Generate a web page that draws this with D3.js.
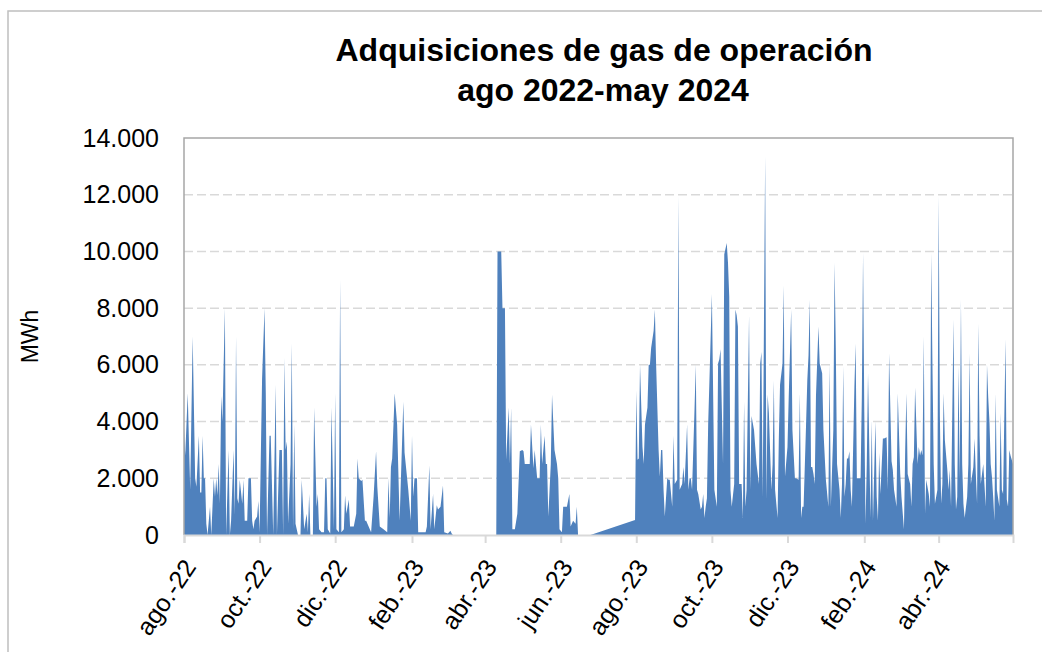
<!DOCTYPE html>
<html>
<head>
<meta charset="utf-8">
<script src="https://cdn.jsdelivr.net/npm/d3@7"></script>
<style>
  body { margin: 0; background: #fff; }
  svg text { font-family: "Liberation Sans", Arial, sans-serif; fill: #000; }
</style>
</head>
<body>
<svg id="chart" width="1042" height="652"></svg>
<script>
var titulo = ["Adquisiciones de gas de operación", "ago 2022-may 2024"];
var tituloEje = "MWh";
var inicio = new Date(2022, 7, 1);   // 1 ago 2022
var fin = new Date(2024, 4, 31);     // 31 may 2024

// meses marcados en el eje (cada dos meses)
var mesesEje = [
  new Date(2022, 7, 1), new Date(2022, 9, 1), new Date(2022, 11, 1),
  new Date(2023, 1, 1), new Date(2023, 3, 1), new Date(2023, 5, 1),
  new Date(2023, 7, 1), new Date(2023, 9, 1), new Date(2023, 11, 1),
  new Date(2024, 1, 1), new Date(2024, 3, 1)
];
var etiquetasX = ["ago.-22", "oct.-22", "dic.-22", "feb.-23", "abr.-23", "jun.-23",
  "ago.-23", "oct.-23", "dic.-23", "feb.-24", "abr.-24"];
var ticksY = [0, 2000, 4000, 6000, 8000, 10000, 12000, 14000];

// [dias desde 1 ago 2022, MWh]
var lecturas = [
  [0,3800],[1,2800],[3,5000],[5,1600],[7,7000],[9,2000],[10,1700],[12,3500],[13,1500],[14,1500],
  [15,3500],[16,2000],[17,2000],[18,400],[19,0],[20,500],[21,1000],[22,0],[24,2000],[25,1350],
  [26,2000],[27,1400],[28,2500],[29,1100],[30,4900],[31,4000],[33,8000],[34,0],[36,3000],[37,0],
  [38,500],[40,3000],[41,700],[42,7000],[43,1300],[44,1100],[45,1950],[47,1100],[48,1950],[49,500],
  [51,500],[52,2000],[54,2000],[55,500],[56,200],[57,500],[59,650],[60,1200],[61,100],[63,5500],
  [65,8000],[66,5000],[67,0],[69,3500],[70,3500],[72,0],[74,5300],[75,0],[77,3000],[79,3000],
  [80,0],[81,6250],[82,3000],[83,3300],[84,400],[86,2500],[87,6750],[88,200],[89,3900],[90,400],
  [92,0],[94,0],[95,1950],[97,200],[99,750],[100,100],[101,1450],[102,0],[104,0],[105,4500],
  [107,1000],[108,1450],[109,200],[111,100],[113,100],[114,2000],[115,2000],[116,200],[118,50],[119,4500],
  [121,200],[122,5000],[123,200],[125,100],[126,9000],[127,100],[129,200],[130,1400],[131,750],[133,1250],
  [134,300],[137,300],[139,750],[140,2700],[141,2000],[143,1900],[144,1950],[146,500],[147,500],[149,300],
  [151,100],[153,1350],[155,2950],[156,1700],[158,300],[161,200],[164,100],[165,2000],[166,600],[167,2400],
  [168,2700],[170,5000],[172,3900],[174,500],[177,4700],[178,2900],[181,1600],[183,500],[184,3500],[185,1350],
  [186,2000],[188,2000],[189,100],[195,100],[196,300],[198,2450],[199,200],[201,1450],[202,200],[204,1050],
  [205,900],[207,1000],[209,1750],[210,100],[213,50],[215,150],[216,50],[217,0],[252,0],[253,10000],
  [256,10000],[257,8000],[259,8000],[260,2650],[262,4500],[263,2500],[264,4500],[265,200],[267,200],[269,750],
  [271,2950],[273,3000],[274,2950],[275,2500],[278,2500],[279,2500],[280,3900],[282,2350],[283,3000],[285,2000],
  [286,2000],[287,2000],[288,3900],[289,2500],[291,3500],[292,2500],[293,2500],[294,650],[296,2500],[297,4950],
  [299,3000],[301,2500],[302,2000],[303,200],[305,100],[306,1000],[308,1000],[309,1000],[311,1450],[312,300],
  [314,500],[316,400],[317,1000],[318,0],[328,0],[364,530],[365,5100],[366,2650],[367,2700],[368,6000],
  [370,3100],[371,2500],[372,3900],[374,4500],[375,6000],[376,6000],[377,6600],[379,7200],[380,7950],[381,6000],
  [383,3000],[384,2050],[385,3000],[386,3000],[387,1600],[388,650],[390,2000],[391,1950],[392,1950],[394,1000],
  [395,3500],[396,1800],[398,1950],[399,11950],[400,1600],[402,1800],[403,2400],[404,1800],[406,3900],[407,1600],
  [408,2000],[409,2000],[410,1600],[412,4450],[413,6000],[414,1600],[415,1450],[417,900],[418,1000],[419,1450],
  [420,600],[421,1000],[422,1300],[423,3900],[424,5400],[426,8500],[428,1600],[430,1000],[431,6050],[432,6200],
  [433,6550],[435,2500],[436,9900],[438,10300],[439,9600],[440,8400],[441,1600],[442,1000],[444,1800],[445,7950],
  [446,7750],[447,7350],[448,1800],[450,1800],[451,600],[452,4700],[453,1000],[454,1600],[456,7750],[457,1600],
  [458,4200],[460,3700],[461,3100],[462,2500],[464,1800],[465,6050],[466,6450],[467,1350],[469,13350],[470,1250],
  [471,4950],[472,4300],[474,1600],[475,2500],[476,5450],[477,1600],[479,600],[480,3350],[481,5300],[483,6050],
  [484,8800],[485,2050],[487,3100],[488,4850],[490,7950],[491,3700],[493,2000],[494,2000],[496,1950],[497,5000],
  [498,600],[499,1000],[500,1000],[502,3900],[503,5450],[504,6350],[505,8300],[506,2400],[507,2400],[508,2150],
  [509,1800],[510,4900],[512,7350],[513,6050],[515,5700],[516,3700],[518,1950],[520,1000],[521,6050],[522,1000],
  [524,3700],[525,9600],[526,6600],[527,2500],[529,1600],[530,600],[531,1800],[532,5950],[533,1350],[534,1800],
  [535,2700],[536,2700],[537,2950],[538,1600],[539,1000],[541,5200],[542,6750],[543,2000],[545,2000],[546,2000],
  [547,4850],[548,9950],[549,4350],[550,400],[551,2500],[552,5700],[554,600],[555,4050],[556,500],[558,4000],
  [559,1350],[560,500],[561,2900],[562,1450],[564,3400],[565,3400],[567,3450],[568,1600],[569,6400],[571,2600],
  [572,2300],[573,1600],[575,1000],[576,5000],[578,2150],[579,1350],[581,200],[582,3000],[583,5000],[584,2150],
  [586,1800],[587,1000],[588,2500],[589,2750],[590,5200],[592,2500],[593,3100],[594,2800],[595,3000],[596,2800],
  [597,7000],[598,750],[599,1950],[601,1450],[602,1000],[603,9950],[604,6000],[605,2500],[606,1100],[608,1600],
  [609,11950],[610,4200],[611,1100],[612,1800],[613,5000],[614,3350],[616,2300],[617,1600],[618,2300],[619,1000],
  [621,7600],[622,2500],[623,900],[624,1350],[625,5950],[626,1950],[627,8300],[628,2500],[629,1100],[630,600],
  [632,1350],[633,2500],[634,6400],[635,1800],[637,2400],[638,3400],[639,2150],[640,1100],[641,7450],[642,3500],
  [643,1800],[644,2150],[645,2500],[647,1000],[648,6000],[649,4850],[650,4000],[651,2500],[652,2050],[653,1350],
  [654,500],[655,5000],[656,1600],[658,1000],[659,4300],[660,1600],[661,1450],[663,6900],[664,1250],[665,1000],
  [666,3000],[667,2800],[669,2500]
];

var svg = d3.select("#chart");
var plot = {left: 184, right: 1013, top: 138, bottom: 535};

// formato espanol: 14.000
var es = d3.formatLocale({decimal: ",", thousands: ".", grouping: [3], currency: ["", " €"]});
var fmt = es.format(",.0f");

var x = d3.scaleTime().domain([inicio, fin]).range([plot.left, plot.right]);
var y = d3.scaleLinear().domain([0, 14000]).range([plot.bottom, plot.top]);

var datos = lecturas.map(function(d){
  return {fecha: d3.timeDay.offset(inicio, d[0]), valor: d[1]};
});

// marco exterior del grafico
svg.append("rect").attr("x", 8).attr("y", 11).attr("width", 1100).attr("height", 700)
  .attr("fill", "#fff").attr("stroke", "#BFBFBF").attr("stroke-width", 1.5);

// lineas de cuadricula
svg.append("g").selectAll("line")
  .data(ticksY.filter(function(t){ return t > 0 && t < 14000; }))
  .enter().append("line")
  .attr("x1", plot.left).attr("x2", plot.right)
  .attr("y1", function(d){ return y(d); }).attr("y2", function(d){ return y(d); })
  .attr("stroke", "#D9D9D9").attr("stroke-width", 1.5).attr("stroke-dasharray", "9,4");

// area
var area = d3.area()
  .x(function(d){ return x(d.fecha); })
  .y0(y(0))
  .y1(function(d){ return y(d.valor); });

svg.append("path").datum(datos)
  .attr("d", area)
  .attr("fill", "#4F81BD");

// borde del area de trazado (izq, arriba, der)
svg.append("path")
  .attr("d", "M" + plot.left + "," + plot.bottom + "V" + plot.top + "H" + plot.right + "V" + plot.bottom)
  .attr("fill", "none").attr("stroke", "#A6A6A6").attr("stroke-width", 1.5);

// eje x
var ejeX = d3.axisBottom(x).tickValues(mesesEje).tickSize(8)
  .tickFormat(function(d, i){ return etiquetasX[i]; });
var gX = svg.append("g").attr("transform", "translate(0," + plot.bottom + ")").call(ejeX);
gX.select(".domain").attr("stroke", "#D9D9D9").attr("stroke-width", 2);
gX.selectAll(".tick line").attr("stroke", "#D9D9D9").attr("stroke-width", 2);
gX.selectAll(".tick text")
  .attr("font-size", 25)
  .attr("text-anchor", "end")
  .attr("dy", null).attr("y", 0)
  .attr("dominant-baseline", "central")
  .attr("transform", "translate(5,27) rotate(-56)");

// eje y
var ejeY = d3.axisLeft(y).tickValues(ticksY).tickSize(0).tickPadding(25).tickFormat(fmt);
var gY = svg.append("g").attr("transform", "translate(" + plot.left + ",0)").call(ejeY);
gY.select(".domain").remove();
gY.selectAll(".tick text").attr("font-size", 25);

// titulo del eje y
svg.append("text")
  .attr("transform", "translate(38," + ((plot.top + plot.bottom) / 2) + ") rotate(-90)")
  .attr("text-anchor", "middle")
  .attr("font-size", 23)
  .text(tituloEje);

// titulo
svg.append("text").attr("x", 604).attr("y", 61)
  .attr("text-anchor", "middle").attr("font-size", 32).attr("font-weight", "bold")
  .text(titulo[0]);
svg.append("text").attr("x", 603).attr("y", 101)
  .attr("text-anchor", "middle").attr("font-size", 32).attr("font-weight", "bold")
  .text(titulo[1]);
</script>
</body>
</html>
